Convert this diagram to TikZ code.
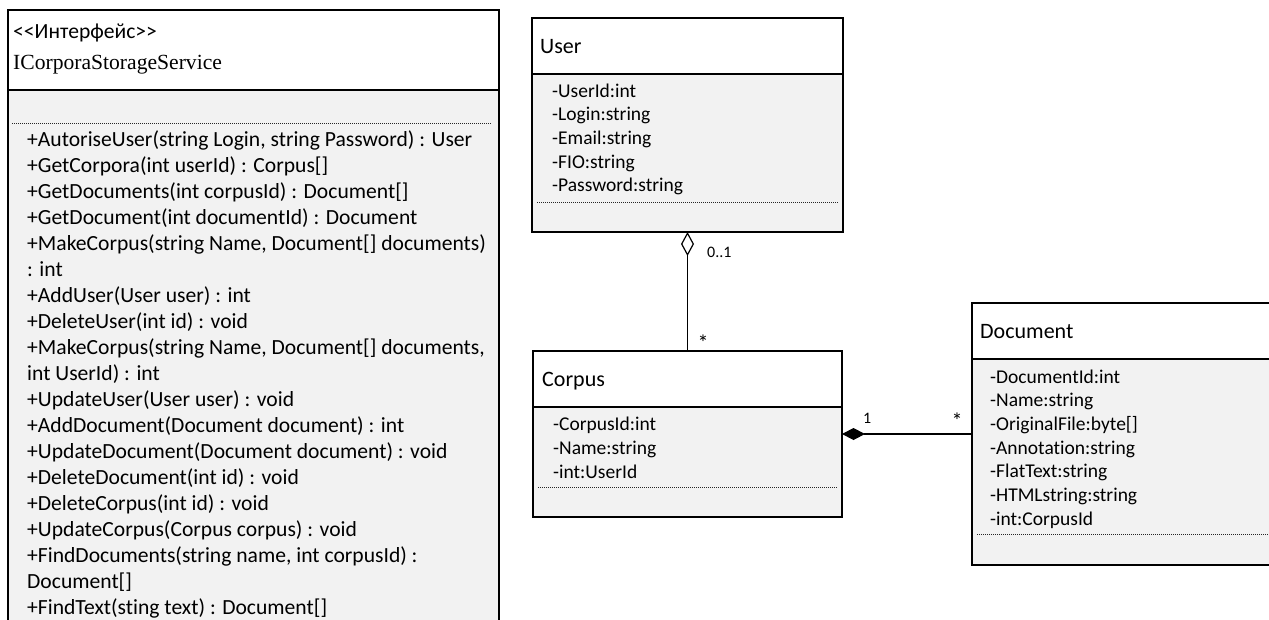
\documentclass[tikz,border=0pt]{standalone}
\usepackage{fontspec}
\setmainfont{Carlito}[Ligatures={NoCommon}]
\newfontfamily\classserif{Liberation Serif}
\usetikzlibrary{arrows.meta}
\definecolor{bodyfill}{HTML}{F2F2F2}

\begin{document}
\begin{tikzpicture}[x=1pt,y=-1pt,
  box/.style={draw=black, line width=1.2pt, inner sep=0pt, outer sep=0pt, anchor=north west},
  head/.style={box, fill=white},
  body/.style={box, fill=bodyfill},
  sep/.style={line width=0.6pt, dash pattern=on 1pt off 1pt, draw=black!85},
  op/.style={anchor=base west, inner sep=0pt, font=\fontsize{21.6}{26}\selectfont},
  attr/.style={anchor=base west, inner sep=0pt, font=\fontsize{19.5}{23.7}\selectfont},
  title/.style={anchor=base west, inner sep=0pt, font=\fontsize{22}{26}\selectfont},
  mult/.style={inner sep=0pt, font=\fontsize{16}{19}\selectfont},
  star/.style={inner sep=0pt, anchor=center, font=\fontsize{22}{26}\selectfont},
  link/.style={line width=1.2pt, draw=black},
]
\useasboundingbox (0,0) rectangle (1269,619);
\clip (0,0) rectangle (1269,619);

% ---- interface ICorporaStorageService ----
\node[head, minimum width=491, minimum height=80] (ifHead) at (8,10) {};
\node[body, minimum width=491, minimum height=580] (ifBody) at (8,90) {};
\node[title, font=\fontsize{21.6}{26}\selectfont] (ifStereo) at (13,38) {<\kern0pt<Интерфейс>\kern0pt>};
\node[title, font=\classserif\fontsize{21.6}{26}\selectfont] (ifName) at (13,69) {ICorporaStorageService};
\draw[sep] (12,123) -- (492,123);
\foreach \t [count=\i] in {
  {+AutoriseUser(string Login, string Password) : User},
  {+GetCorpora(int userId) : Corpus[]},
  {+GetDocuments(int corpusId) : Document[]},
  {+GetDocument(int documentId) : Document},
  {+MakeCorpus(string Name, Document[] documents)},
  {: int},
  {+AddUser(User user) : int},
  {+DeleteUser(int id) : void},
  {+MakeCorpus(string Name, Document[] documents,},
  {int UserId) : int},
  {+UpdateUser(User user) : void},
  {+AddDocument(Document document) : int},
  {+UpdateDocument(Document document) : void},
  {+DeleteDocument(int id) : void},
  {+DeleteCorpus(int id) : void},
  {+UpdateCorpus(Corpus corpus) : void},
  {+FindDocuments(string name, int corpusId) :},
  {Document[]},
  {+FindText(sting text) : Document[]}}
  \node[op] (op\i) at (27,{146+26*(\i-1)}) {\t};

% ---- class User ----
\node[head, minimum width=311, minimum height=56] (userHead) at (532,18) {};
\node[body, minimum width=311, minimum height=158] (userBody) at (532,74) {};
\node[title] (userName) at (540,53) {User};
\draw[sep] (537,202) -- (838,202);
\foreach \t [count=\i] in {-UserId:int, -Login:string, -Email:string, -FIO:string, -Password:string}
  \node[attr] (ua\i) at (552,{97+23.7*(\i-1)}) {\t};

% ---- class Corpus ----
\node[head, minimum width=309, minimum height=56] (corpusHead) at (533,351) {};
\node[body, minimum width=309, minimum height=110] (corpusBody) at (533,407) {};
\node[title] (corpusName) at (542,386) {Corpus};
\draw[sep] (538,487) -- (837,487);
\foreach \t [count=\i] in {-CorpusId:int, -Name:string, -int:UserId}
  \node[attr] (ca\i) at (553,{430+24*(\i-1)}) {\t};

% ---- class Document ----
\node[head, minimum width=330, minimum height=56] (docHead) at (972,303) {};
\node[body, minimum width=330, minimum height=206] (docBody) at (972,359) {};
\node[title] (docName) at (980,338) {Document};
\draw[sep] (977,534) -- (1275,534);
\foreach \t [count=\i] in {-DocumentId:int, -Name:string, {-OriginalFile:byte[]}, -Annotation:string, -FlatText:string, -HTMLstring:string, -int:CorpusId}
  \node[attr] (da\i) at (990,{383+23.7*(\i-1)}) {\t};

% ---- associations ----
\draw[link, {Diamond[open, length=24pt, width=13pt]}-] (userBody.south) -- (corpusHead.north);
\node[mult, anchor=base west] (m01) at (707,257) {0..1};
\node[star] (mUserMany) at (703,343) {*};

\draw[link, {Diamond[length=23pt, width=12pt]}-] ([yshift=28pt]corpusBody.east) -- ([yshift=28pt]docBody.west);
\node[mult, anchor=base west] (mOne) at (863,423) {1};
\node[star] (mDocMany) at (957,421) {*};
\end{tikzpicture}
\end{document}
